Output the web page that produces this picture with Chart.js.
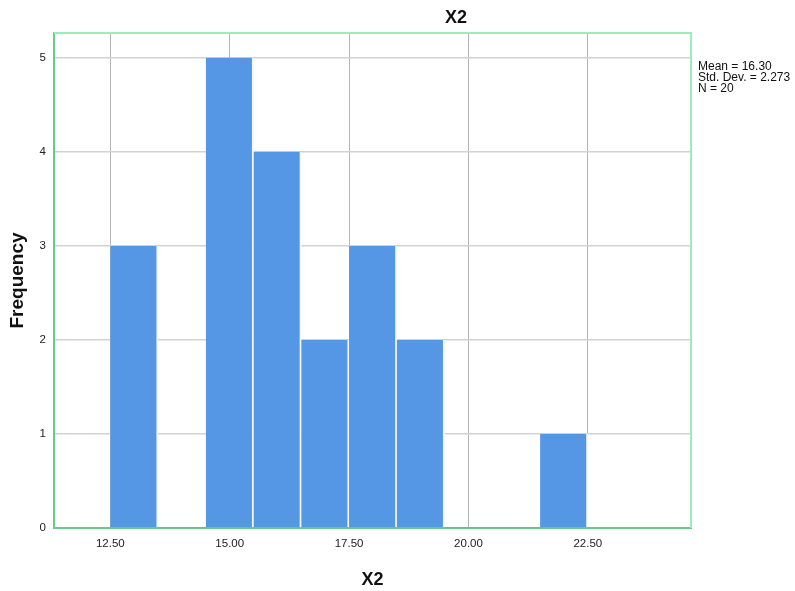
<!DOCTYPE html>
<html>
<head>
<meta charset="utf-8">
<title>X2 histogram</title>
<script src="https://cdn.jsdelivr.net/npm/chart.js@4/dist/chart.umd.min.js"></script>
<style>
  html, body { margin: 0; padding: 0; background: #fff; }
  canvas { display: block; }
</style>
</head>
<body>
<canvas id="histChart" width="795" height="591"></canvas>
<script>
// Histogram data (bin width 1)
const binCenters = [13, 14, 15, 16, 17, 18, 19, 20, 21, 22];
const counts = [3, 0, 5, 4, 2, 3, 2, 0, 0, 1];
const xTicks = [12.5, 15, 17.5, 20, 22.5];
const yTicks = [0, 1, 2, 3, 4, 5];
const statLines = ['Mean = 16.30', 'Std. Dev. = 2.273', 'N = 20'];

const FONT = "'Liberation Sans', Arial, sans-serif";

// frame on top / right + title + stats box
const extrasPlugin = {
    id: 'extras',
    afterDraw(chart) {
        const { ctx, chartArea: a } = chart;
        ctx.save();
        ctx.strokeStyle = '#99eebb';
        ctx.lineWidth = 2;
        ctx.beginPath();
        ctx.moveTo(a.left, a.top);
        ctx.lineTo(a.right, a.top);
        ctx.lineTo(a.right, a.bottom);
        ctx.stroke();

        ctx.fillStyle = '#111';
        ctx.font = 'bold 18px ' + FONT;
        ctx.textAlign = 'center';
        ctx.textBaseline = 'middle';
        ctx.fillText('X2', 456, 18);

        ctx.font = '12px ' + FONT;
        ctx.textAlign = 'left';
        statLines.forEach((s, i) => {
            ctx.fillText(s, 698, 67 + i * 10.8);
        });
        ctx.restore();
    }
};

new Chart(document.getElementById('histChart'), {
    type: 'bar',
    data: {
        datasets: [{
            label: 'Frequency',
            data: binCenters.map((c, i) => ({ x: c, y: counts[i] })),
            backgroundColor: '#5596e5',
            borderColor: '#f2f7fd',
            borderWidth: (ctx) => (ctx.raw && ctx.raw.y > 0
                ? { top: 0, left: 0, bottom: 0, right: 2 }
                : 0),
            borderSkipped: false,
            barPercentage: 1,
            categoryPercentage: 1
        }]
    },
    options: {
        responsive: false,
        animation: false,
        devicePixelRatio: 1,
        layout: { padding: { top: 33, right: 104, left: 0, bottom: 0 } },
        plugins: {
            legend: { display: false },
            tooltip: { enabled: false }
        },
        scales: {
            x: {
                type: 'linear',
                offset: false,
                min: 11.32,
                max: 24.66,
                afterFit: (scale) => { scale.height = 63; },
                afterBuildTicks: (scale) => { scale.ticks = xTicks.map(v => ({ value: v })); },
                ticks: {
                    color: '#222',
                    font: { family: FONT, size: 11.5 },
                    padding: 9,
                    maxRotation: 0,
                    callback: (v) => Number(v).toFixed(2)
                },
                grid: { color: '#b4b4b4', lineWidth: 1, drawTicks: false, offset: false },
                border: { color: '#66cc88', width: 2 },
                title: {
                    display: true,
                    text: 'X2',
                    color: '#111',
                    font: { family: FONT, size: 18, weight: 'bold' },
                    padding: { top: 0, bottom: 0 }
                }
            },
            y: {
                min: 0,
                max: 5.264,
                afterFit: (scale) => { scale.width = 54; },
                afterBuildTicks: (scale) => { scale.ticks = yTicks.map(v => ({ value: v })); },
                ticks: {
                    color: '#222',
                    font: { family: FONT, size: 11.5 },
                    padding: 8
                },
                grid: { color: '#d2d2d2', lineWidth: 1.5, drawTicks: false },
                border: { color: '#66cc88', width: 2 },
                title: {
                    display: true,
                    text: 'Frequency',
                    color: '#111',
                    font: { family: FONT, size: 19, weight: 'bold' },
                    padding: { top: 6, bottom: 0 }
                }
            }
        }
    },
    plugins: [extrasPlugin]
});
</script>
</body>
</html>
